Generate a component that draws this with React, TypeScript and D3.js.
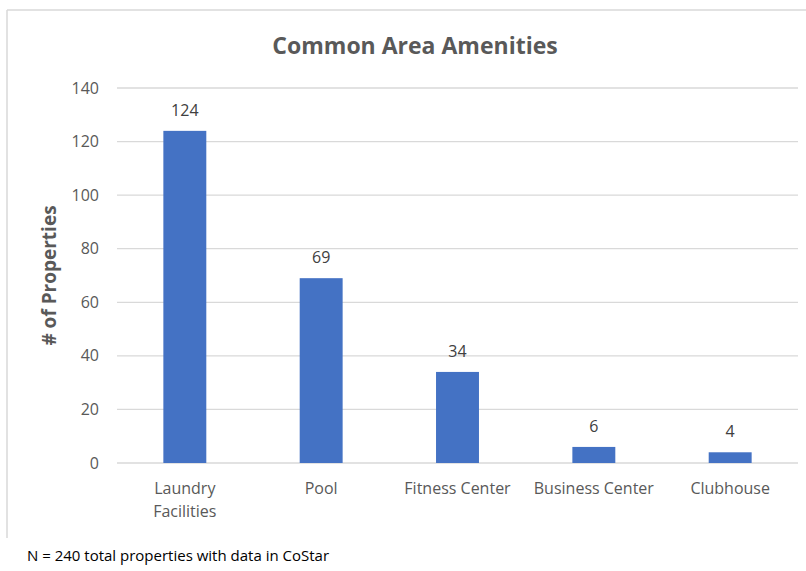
import { useEffect, useRef } from 'react';
import * as d3 from 'd3';

const categories = ['Laundry Facilities', 'Pool', 'Fitness Center', 'Business Center', 'Clubhouse'];
const categoryLines = [['Laundry', 'Facilities'], ['Pool'], ['Fitness Center'], ['Business Center'], ['Clubhouse']];
const values = [124, 69, 34, 6, 4];
const yTicks = [0, 20, 40, 60, 80, 100, 120, 140];

const W = 806;
const H = 571;
const FONT = "'Open Sans', 'Noto Sans', sans-serif";

export default function App() {
  const svgRef = useRef<SVGSVGElement>(null);

  useEffect(() => {
    if (!svgRef.current) return;
    const svg = d3.select(svgRef.current);
    svg.selectAll('*').remove();

    const left = 117;
    const right = 798;
    const top = 88;
    const bottom = 463;

    const x = d3.scaleBand().domain(categories).range([left, right]).paddingInner(0.685).paddingOuter(0.34);
    const y = d3.scaleLinear().domain([0, 140]).range([bottom, top]);

    // chart frame (only top and left visible)
    svg.append('line').attr('x1', 7).attr('x2', W).attr('y1', 10).attr('y2', 10).attr('stroke', '#d9d9d9').attr('stroke-width', 1.5);
    svg.append('line').attr('x1', 7).attr('x2', 7).attr('y1', 10).attr('y2', 538).attr('stroke', '#d9d9d9').attr('stroke-width', 1.5);

    // title
    svg
      .append('text')
      .attr('x', 415)
      .attr('y', 54)
      .attr('text-anchor', 'middle')
      .attr('font-family', FONT)
      .attr('font-size', 23)
      .attr('font-weight', 700)
      .attr('fill', '#595959')
      .text('Common Area Amenities');

    // grid
    svg
      .selectAll('.grid')
      .data(yTicks)
      .enter()
      .append('line')
      .attr('x1', left)
      .attr('x2', right)
      .attr('y1', (d) => y(d))
      .attr('y2', (d) => y(d))
      .attr('stroke', '#d9d9d9')
      .attr('stroke-width', 1.3);

    // y tick labels
    svg
      .selectAll('.ytick')
      .data(yTicks)
      .enter()
      .append('text')
      .attr('x', 99)
      .attr('y', (d) => y(d) + 5.5)
      .attr('text-anchor', 'end')
      .attr('font-family', FONT)
      .attr('font-size', 16)
      .attr('fill', '#595959')
      .text((d) => d);

    // y axis title
    svg
      .append('text')
      .attr('transform', `translate(56, ${(top + bottom) / 2}) rotate(-90)`)
      .attr('text-anchor', 'middle')
      .attr('font-family', FONT)
      .attr('font-size', 19)
      .attr('font-weight', 700)
      .attr('fill', '#595959')
      .text('# of Properties');

    // bars
    svg
      .selectAll('.bar')
      .data(values)
      .enter()
      .append('rect')
      .attr('x', (_, i) => x(categories[i])!)
      .attr('y', (d) => y(d))
      .attr('width', x.bandwidth())
      .attr('height', (d) => bottom - y(d))
      .attr('fill', '#4472c4');

    // data labels
    svg
      .selectAll('.label')
      .data(values)
      .enter()
      .append('text')
      .attr('x', (_, i) => x(categories[i])! + x.bandwidth() / 2)
      .attr('y', (d) => y(d) - 15)
      .attr('text-anchor', 'middle')
      .attr('font-family', FONT)
      .attr('font-size', 16)
      .attr('fill', '#404040')
      .text((d) => d);

    // x labels
    categoryLines.forEach((lines, i) => {
      const cx = x(categories[i])! + x.bandwidth() / 2;
      lines.forEach((line, j) => {
        svg
          .append('text')
          .attr('x', cx)
          .attr('y', 494 + j * 23)
          .attr('text-anchor', 'middle')
          .attr('font-family', FONT)
          .attr('font-size', 16)
          .attr('fill', '#595959')
          .text(line);
      });
    });

    // footnote
    svg
      .append('text')
      .attr('x', 27)
      .attr('y', 561)
      .attr('font-family', FONT)
      .attr('font-size', 15)
      .attr('fill', '#000')
      .text('N = 240 total properties with data in CoStar');
  }, []);

  return (
    <svg
      ref={svgRef}
      width={W}
      height={H}
      style={{ position: 'absolute', left: 0, top: 0, background: '#fff' }}
    />
  );
}
